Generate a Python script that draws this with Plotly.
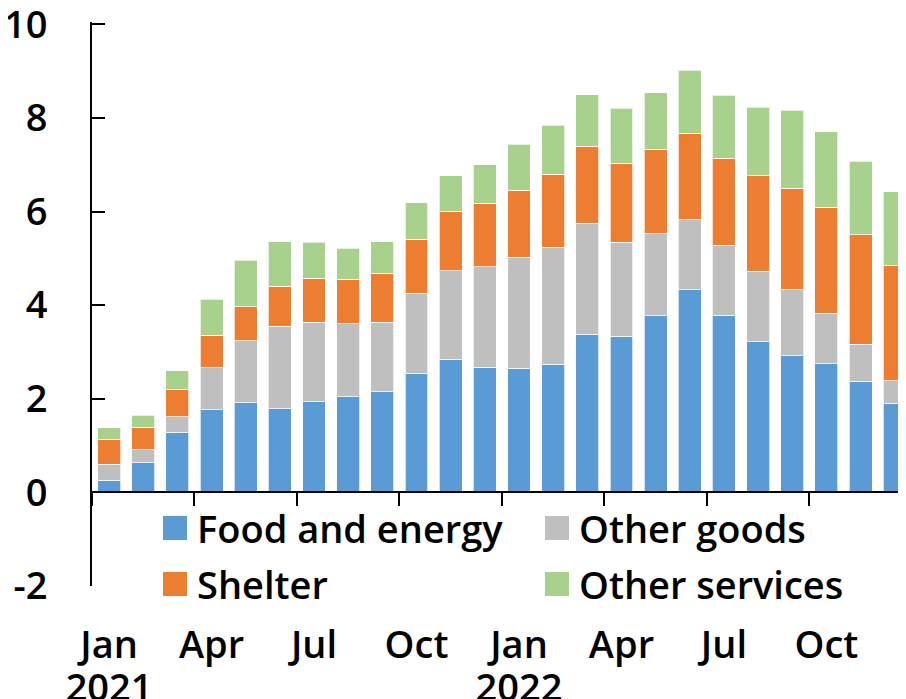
import plotly.graph_objects as go

months = ["Jan 2021", "Feb 2021", "Mar 2021", "Apr 2021", "May 2021", "Jun 2021",
          "Jul 2021", "Aug 2021", "Sep 2021", "Oct 2021", "Nov 2021", "Dec 2021",
          "Jan 2022", "Feb 2022", "Mar 2022", "Apr 2022", "May 2022", "Jun 2022",
          "Jul 2022", "Aug 2022", "Sep 2022", "Oct 2022", "Nov 2022", "Dec 2022"]

food_energy = [0.26, 0.63, 1.28, 1.77, 1.92, 1.79, 1.94, 2.04, 2.15, 2.55, 2.84, 2.67,
               2.65, 2.74, 3.38, 3.34, 3.77, 4.33, 3.79, 3.22, 2.92, 2.75, 2.37, 1.90]
other_goods = [0.34, 0.28, 0.34, 0.89, 1.32, 1.76, 1.70, 1.56, 1.49, 1.71, 1.90, 2.15,
               2.37, 2.50, 2.37, 2.00, 1.76, 1.50, 1.49, 1.50, 1.41, 1.08, 0.79, 0.48]
shelter = [0.53, 0.48, 0.57, 0.70, 0.73, 0.85, 0.93, 0.95, 1.04, 1.15, 1.27, 1.36,
           1.44, 1.56, 1.65, 1.69, 1.80, 1.84, 1.86, 2.04, 2.17, 2.26, 2.34, 2.46]
other_services = [0.25, 0.26, 0.41, 0.77, 0.99, 0.96, 0.77, 0.67, 0.68, 0.78, 0.76, 0.82,
                  0.98, 1.04, 1.10, 1.18, 1.21, 1.35, 1.34, 1.47, 1.66, 1.61, 1.57, 1.58]

series_names = ["Food and energy", "Other goods", "Shelter", "Other services"]
series_colors = ["#5B9BD5", "#BFBFBF", "#ED7D31", "#A9D18E"]

month_tick_idx = [0, 3, 6, 9, 12, 15, 18, 21]
month_tick_text = ["Jan", "Apr", "Jul", "Oct", "Jan", "Apr", "Jul", "Oct"]
year_tick_idx = [0, 12]
year_tick_text = ["2021", "2022"]
y_ticks = [-2, 0, 2, 4, 6, 8, 10]
y_tick_text = ["-2", "0", "2", "4", "6", "8", "10"]

FONT = dict(family="Open Sans, DejaVu Sans, sans-serif", size=38, color="black", weight=600)

# page body adds an 8px margin; the figure is sized so the plot lands where the reference has it
W, H = 898, 691
L, T, B, R = 84, 14, 113, 0

x = list(range(len(months)))
fig = go.Figure()
for name, vals, col in zip(series_names, [food_energy, other_goods, shelter, other_services], series_colors):
    fig.add_trace(go.Bar(x=x, y=vals, name=name, marker=dict(color=col, line=dict(color="rgba(255,255,255,0.7)", width=1)),
                         showlegend=False, hovertext=months))

xr = [-0.5, 23.33]
quarter_bounds = [i - 0.5 for i in range(0, 25, 3)]

fig.update_layout(
    width=W, height=H,
    margin=dict(l=L, r=R, t=T, b=B, pad=0),
    barmode="stack", bargap=0.33,
    plot_bgcolor="white", paper_bgcolor="white",
    font=FONT,
    xaxis=dict(range=xr, tickvals=month_tick_idx, ticktext=month_tick_text, ticks="outside",
               ticklen=25, tickcolor="rgba(0,0,0,0)", showline=False, showgrid=False, zeroline=False,
               tickfont=FONT, automargin=False, ticklabeloverflow="allow"),
    xaxis2=dict(range=xr, overlaying="x", anchor="free", position=1/6, side="bottom",
                showline=True, linecolor="black", linewidth=2, ticks="outside", ticklen=13,
                tickwidth=2, tickcolor="black", tickvals=quarter_bounds, showticklabels=False,
                showgrid=False, zeroline=False, automargin=False),
    xaxis3=dict(range=xr, overlaying="x", anchor="y", side="bottom", tickvals=year_tick_idx,
                ticktext=year_tick_text, ticks="outside", ticklen=68, tickcolor="rgba(0,0,0,0)",
                showline=False, showgrid=False, zeroline=False, tickfont=FONT, automargin=False,
                ticklabeloverflow="allow"),
    yaxis=dict(range=[-2, 10.05], tickvals=y_ticks, ticktext=y_tick_text, ticks="inside", ticklen=13, tickwidth=2,
               tickcolor="black", showline=True, linecolor="black", linewidth=2,
               showgrid=False, zeroline=False, ticklabelstandoff=35, tickfont=FONT, automargin=False,
               ticklabeloverflow="allow"),
)
fig.add_trace(go.Scatter(x=[None], y=[None], xaxis="x2", showlegend=False, hoverinfo="skip"))
fig.add_trace(go.Scatter(x=[None], y=[None], xaxis="x3", showlegend=False, hoverinfo="skip"))

PW, PH = W - L - R, H - T - B
def px_x(p):
    return (p - 8 - L) / PW
def px_y(p):
    return (H - B + 8 - p) / PH

legend_pos = [(163, 528), (545, 528), (163, 584), (545, 584)]
legend_layout_names = ["Food and energy", "Other goods", "Shelter", "Other services"]
for (lx, ly), nm in zip(legend_pos, legend_layout_names):
    col = series_colors[series_names.index(nm)]
    fig.add_shape(type="rect", xref="paper", yref="paper",
                  x0=px_x(lx), x1=px_x(lx + 24), y0=px_y(ly + 12), y1=px_y(ly - 12),
                  fillcolor=col, line=dict(width=0))
    fig.add_annotation(text=nm, xref="paper", yref="paper", x=px_x(lx + 32), y=px_y(ly),
                       xanchor="left", yanchor="middle", showarrow=False, font=FONT)

fig.write_html("out.html")
